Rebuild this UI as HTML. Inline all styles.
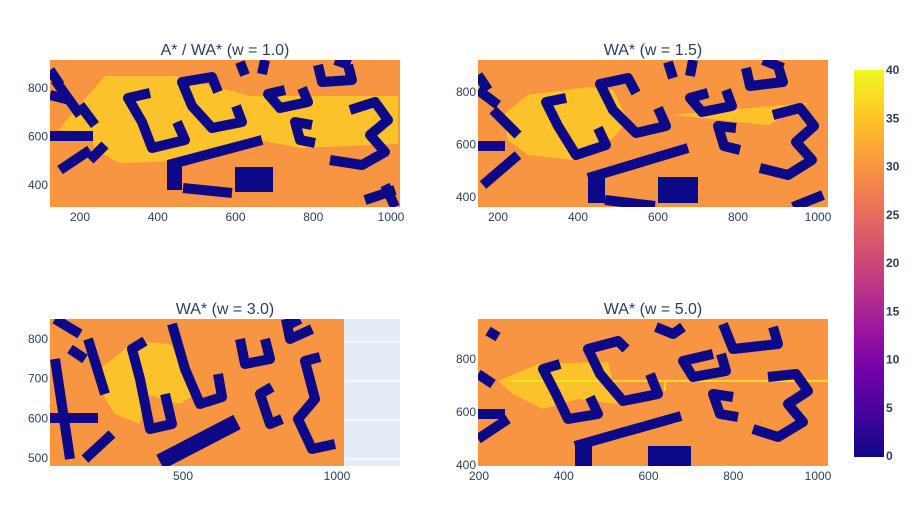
<!DOCTYPE html>
<html><head><meta charset="utf-8"><style>
body{margin:0;background:#fff;}
svg{display:block;font-family:"Liberation Sans",sans-serif;}
.t{fill:#2a3f5f;font-size:12px;}
.ti{fill:#2a3f5f;font-size:16px;text-anchor:middle;}
.b{fill:none;stroke:#0d0887;stroke-width:10;stroke-linejoin:round;stroke-linecap:butt;}
.bf{fill:#0d0887;}
.y{fill:#fcc22a;}
</style></head><body>
<svg id="c" width="919" height="517" viewBox="0 0 919 517">
<defs>
<linearGradient id="plasma" x1="0" y1="1" x2="0" y2="0">
<stop offset="0" stop-color="#0d0887"/><stop offset="0.111" stop-color="#46039f"/><stop offset="0.222" stop-color="#7201a8"/><stop offset="0.333" stop-color="#9c179e"/><stop offset="0.444" stop-color="#bd3786"/><stop offset="0.556" stop-color="#d8576b"/><stop offset="0.667" stop-color="#ed7953"/><stop offset="0.778" stop-color="#fb9f3a"/><stop offset="0.889" stop-color="#fdca26"/><stop offset="1" stop-color="#f0f921"/>
</linearGradient>
<clipPath id="cp"><rect x="0" y="0" width="350" height="147"/></clipPath>
<clipPath id="cp3"><rect x="0" y="0" width="294" height="147"/></clipPath>
</defs>

<text class="ti" x="225" y="55">A* / WA* (w = 1.0)</text>
<text class="ti" x="653" y="55">WA* (w = 1.5)</text>
<text class="ti" x="225" y="314">WA* (w = 3.0)</text>
<text class="ti" x="653" y="314">WA* (w = 5.0)</text>

<!-- Plot 1 -->
<g transform="translate(50,60)" clip-path="url(#cp)">
<rect width="350" height="147" fill="#f89540"/>
<polygon class="y" points="8,70 55,16 125,16 200,36 348,36 348,84 250,88 210,80 150,100 70,103 45,90 40,72"/>
<path class="b" d="M100,33 L78,38 L92,62 L102,88 L135,80 L127,62"/>
<path class="b" d="M168,32 L162,17 L132,22 L142,46 L162,68 L192,62 L186,46"/>
<path class="b" d="M235,30 L218,34 L230,48 L258,42 L252,28"/>
<path class="b" d="M190,2 L195,15 M215,0 L212,14 M268,5 L272,22 L302,20 L298,5 M285,0 L300,5"/>
<path class="b" d="M300,50 L325,42 L338,60 L320,75 L335,92 L312,105 L280,100"/>
<path class="b" d="M262,65 L245,62 L250,80 L265,83"/>
<path class="b" d="M118,105 L212,80"/><rect class="bf" x="117" y="100" width="15" height="30"/>
<path class="b" d="M133,128 L182,133"/><rect class="bf" x="185" y="107" width="38" height="25"/>
<path class="b" d="M0,76 L43,76 M0,35 L20,40 M5,20 L30,55 M30,45 L45,65 M10,110 L40,90 M40,100 L55,85"/>
<path class="b" d="M315,140 L345,130 M335,125 L345,147 M0,10 L10,25"/>
</g>

<!-- Plot 2 -->
<g transform="translate(478,60)" clip-path="url(#cp)">
<rect width="350" height="147" fill="#f89540"/>
<polygon class="y" points="25,55 50,35 110,27 135,30 150,60 135,78 95,100 50,95 30,80"/>
<polygon class="y" points="195,55 330,43 290,65"/>
<path class="b" d="M88,38 L68,42 L80,66 L98,95 L128,85 L120,68"/>
<path class="b" d="M158,33 L150,18 L122,24 L135,50 L158,73 L188,66 L180,48"/>
<path class="b" d="M230,33 L212,38 L224,52 L254,46 L248,30"/>
<path class="b" d="M190,2 L195,18 M215,0 L212,16 M268,8 L272,26 L305,22 L300,6 M285,0 L305,8"/>
<path class="b" d="M295,55 L322,48 L336,66 L318,82 L334,100 L310,115 L282,108"/>
<path class="b" d="M258,68 L240,66 L246,86 L262,90"/>
<path class="b" d="M110,118 L210,88"/><rect class="bf" x="110" y="113" width="17" height="30"/>
<path class="b" d="M127,140 L177,146"/><rect class="bf" x="180" y="117" width="40" height="26"/>
<path class="b" d="M0,86 L27,86 M0,30 L20,45 M15,50 L40,75 M5,125 L40,95"/>
<path class="b" d="M315,147 L345,135 M0,15 L10,30"/>
</g>

<!-- Plot 3 -->
<g transform="translate(50,319)">
<rect width="350" height="147" fill="#e5ecf6"/>
<g stroke="#fff" stroke-width="1">
<line x1="0" x2="350" y1="23" y2="23"/><line x1="0" x2="350" y1="62" y2="62"/><line x1="0" x2="350" y1="101" y2="101"/><line x1="0" x2="350" y1="140" y2="140"/>
</g>
<g clip-path="url(#cp3)">
<rect width="294" height="147" fill="#f89540"/>
<polygon class="y" points="50,50 85,22 120,25 140,50 145,75 130,85 95,75 90,105 65,95 55,80"/>
<path class="b" d="M95,22 L82,30 L90,60 L100,110 L122,105 L115,75"/>
<path class="b" d="M122,5 L135,50 L150,85 L172,78 L168,55"/>
<path class="b" d="M190,20 L195,45 L220,40 L215,20"/>
<path class="b" d="M240,5 L250,0 M236,0 L240,20 L262,10"/>
<path class="b" d="M270,38 L255,42 L265,80 L248,100 L262,130 L285,125"/>
<path class="b" d="M222,68 L210,75 L220,105 L232,100"/>
<path d="M110,143 L187,103" stroke="#0d0887" stroke-width="16" fill="none"/>
<path class="b" d="M0,99 L48,99 M5,0 L30,15 M20,30 L35,40 M5,40 L20,140 M38,20 L55,75 M35,140 L62,115"/>
</g>
</g>

<!-- Plot 4 -->
<g transform="translate(478,319)" clip-path="url(#cp)">
<rect width="350" height="147" fill="#f89540"/>
<polygon class="y" points="20,62 60,45 130,43 140,85 100,80 65,90 35,75"/>
<polyline points="33,62 187,62" fill="none" stroke="#f7f021" stroke-width="1.5"/>
<polyline points="187,72 187,62 350,62" fill="none" stroke="#f7f021" stroke-width="1.5"/>
<path class="b" d="M82,45 L65,50 L78,75 L90,100 L120,95 L112,78"/>
<path class="b" d="M148,30 L140,22 L110,30 L122,55 L145,82 L180,75 L172,55"/>
<path class="b" d="M178,8 L195,15 L205,8 M245,5 L255,30 L300,25 L295,8"/>
<path class="b" d="M235,35 L205,42 L215,58 L248,52 L243,35"/>
<path class="b" d="M290,58 L318,55 L330,72 L310,85 L325,103 L300,118 L275,110"/>
<path class="b" d="M255,78 L235,75 L242,95 L260,98"/>
<path class="b" d="M97,127 L203,97"/><rect class="bf" x="97" y="122" width="17" height="28"/>
<rect class="bf" x="170" y="127" width="43" height="23"/>
<path class="b" d="M0,95 L27,95 M10,12 L20,18 M0,55 L15,65 M0,120 L30,100"/>
</g>

<!-- Colorbar -->
<rect x="854" y="70" width="30" height="387" fill="url(#plasma)"/>
<g id="axes"></g>
</svg>
<script>
const cbTicks=[0,5,10,15,20,25,30,35,40];
const p1x=[200,400,600,800,1000], p1y=[800,600,400];
const p2x=[200,400,600,800,1000], p2y=[800,600,400];
const p3x=[500,1000], p3y=[800,700,600,500];
const p4x=[200,400,600,800,1000], p4y=[800,600,400];
const NS="http://www.w3.org/2000/svg";
const g=document.getElementById('axes');
function lin(d0,d1,r0,r1){return v=>r0+(v-d0)/(d1-d0)*(r1-r0);}
function txt(x,y,s,anchor,name,weight){
  const t=document.createElementNS(NS,'text');
  t.setAttribute('x',x);t.setAttribute('y',y);t.setAttribute('class','t');
  t.setAttribute('text-anchor',anchor);
  if(weight)t.setAttribute('font-weight',weight);
  t.textContent=s;
  
  
  g.appendChild(t);
}
const cbY=lin(0,40,456,70);
cbTicks.forEach(v=>txt(886,cbY(v)+4,v,'start','colorbar-tick','bold'));
function axes(xt,yt,xs,ys,xBase,yRight,label){
  xt.forEach(v=>txt(xs(v),xBase,v,'middle',label+'-x-tick'));
  yt.forEach(v=>txt(yRight,ys(v)+4,v,'end',label+'-y-tick'));
}
axes(p1x,p1y,lin(200,1000,80,391),lin(800,400,88,185),221,48,'p1');
axes(p2x,p2y,lin(200,1000,498,818),lin(800,400,92,197),221,476,'p2');
axes(p3x,p3y,lin(500,1000,183,337),lin(800,500,339,458),480,48,'p3');
axes(p4x,p4y,lin(200,1000,479,818),lin(800,400,359,465),480,476,'p4');
</script>
</body></html>
